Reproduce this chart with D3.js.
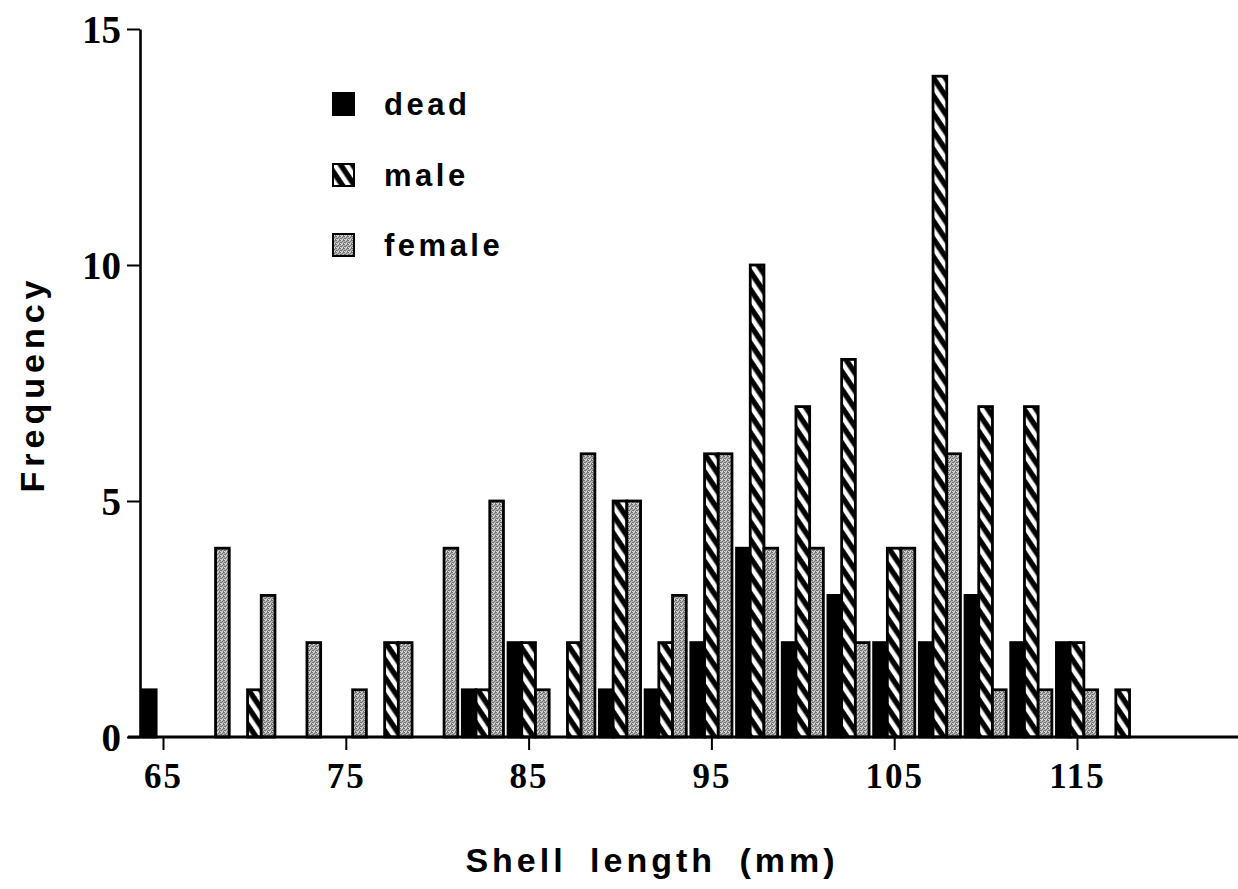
<!DOCTYPE html>
<html>
<head>
<meta charset="utf-8">
<script src="https://cdn.jsdelivr.net/npm/d3@7"></script>
<style>
  html, body { margin: 0; padding: 0; background: #fff; }
  svg { display: block; }
</style>
</head>
<body>
<svg id="chart" width="1238" height="889"></svg>
<script>
// ---- data ----
const bins = [65, 67.5, 70, 72.5, 75, 77.5, 80, 82.5, 85, 87.5, 90, 92.5, 95, 97.5, 100, 102.5, 105, 107.5, 110, 112.5, 115, 117.5];
const dead   = [1, 0, 0, 0, 0, 0, 0, 1, 2, 0, 1, 1, 2, 4, 2, 3, 2, 2, 3, 2, 2, 0];
const male   = [0, 0, 1, 0, 0, 2, 0, 1, 2, 2, 5, 2, 6, 10, 7, 8, 4, 14, 7, 7, 2, 1];
const female = [0, 4, 3, 2, 1, 2, 4, 5, 1, 6, 5, 3, 6, 4, 4, 2, 4, 6, 1, 1, 1, 0];
const seriesNames = ["dead", "male", "female"];
const xTicks = [65, 75, 85, 95, 105, 115];
const yTicks = [0, 5, 10, 15];
const xTitle = "Shell length (mm)";
const yTitle = "Frequency";

const svg = d3.select("#chart");
const W = 1238;

const x = d3.scaleLinear().domain([65, 115]).range([163, 1077]);
const y = d3.scaleLinear().domain([0, 15]).range([737, 29]);

// ---- patterns ----
const defs = svg.append("defs");
const hatch = defs.append("pattern")
  .attr("id", "hatch").attr("patternUnits", "userSpaceOnUse")
  .attr("width", 10).attr("height", 10)
  .attr("patternTransform", "rotate(56)");
hatch.append("rect").attr("width", 10).attr("height", 10).attr("fill", "#000");
hatch.append("rect").attr("y", 2.5).attr("width", 10).attr("height", 4.6).attr("fill", "#fff");

const stip = defs.append("pattern")
  .attr("id", "stipple").attr("patternUnits", "userSpaceOnUse")
  .attr("width", 4).attr("height", 4);
stip.append("rect").attr("width", 4).attr("height", 4).attr("fill", "#b4b4b4");
[[0,0],[2,1],[1,2],[3,3],[3,0],[0,2]].forEach(([px,py]) =>
  stip.append("rect").attr("x", px).attr("y", py).attr("width", 1).attr("height", 1).attr("fill", "#6e6e6e"));
[[1,0],[0,3],[2,3]].forEach(([px,py]) =>
  stip.append("rect").attr("x", px).attr("y", py).attr("width", 1).attr("height", 1).attr("fill", "#dedede"));

const fills = { dead: "#000", male: "url(#hatch)", female: "url(#stipple)" };
const values = { dead, male, female };

// ---- bars ----
const groupW = x(65 + 2.25) - x(65);
const barW = groupW / 3;
const barsG = svg.append("g");
seriesNames.forEach((s, si) => {
  const data = bins.map((b, i) => ({ b, v: values[s][i] })).filter(d => d.v > 0);
  barsG.selectAll(null).data(data).enter().append("rect")
    .attr("x", d => x(d.b) - groupW / 2 + si * barW)
    .attr("y", d => y(d.v))
    .attr("width", barW)
    .attr("height", d => y(0) - y(d.v))
    .attr("fill", fills[s])
    .attr("stroke", "#000")
    .attr("stroke-width", 2.8);
});

// ---- axes ----
const yAxis = d3.axisLeft(y).tickValues(yTicks).tickSize(13).tickSizeOuter(0).tickFormat(d3.format("d"));
const yg = svg.append("g").attr("transform", "translate(140,0)").call(yAxis);
yg.select(".domain").attr("stroke-width", 2.6);
yg.selectAll(".tick line").attr("stroke-width", 2);
yg.selectAll(".tick text")
  .attr("x", -19).attr("dy", "0.34em")
  .attr("font-family", "'Liberation Serif', 'Times New Roman', serif")
  .attr("font-weight", "bold").attr("font-size", 39).attr("fill", "#000");

const xAxis = d3.axisBottom(x).tickValues(xTicks).tickSize(13).tickSizeOuter(0).tickFormat(d3.format("d"));
const xg = svg.append("g").attr("transform", "translate(0,737)").call(xAxis);
xg.select(".domain").remove();
xg.selectAll(".tick line").attr("stroke-width", 2);
xg.selectAll(".tick text")
  .attr("y", 51).attr("dy", 0)
  .attr("font-family", "'Liberation Serif', 'Times New Roman', serif")
  .attr("font-weight", "bold").attr("font-size", 35).attr("letter-spacing", 2).attr("fill", "#000");

// baseline extends across whole width
svg.append("line")
  .attr("x1", 128).attr("x2", W)
  .attr("y1", y(0)).attr("y2", y(0))
  .attr("stroke", "#000").attr("stroke-width", 3);

// ---- titles ----
svg.append("text")
  .attr("transform", `translate(44,${384}) rotate(-90)`)
  .attr("text-anchor", "middle")
  .attr("font-family", "'Liberation Sans', Arial, sans-serif")
  .attr("font-weight", "bold").attr("font-size", 34).attr("letter-spacing", 5)
  .text(yTitle);

svg.append("text")
  .attr("x", 652).attr("y", 872)
  .attr("text-anchor", "middle")
  .attr("font-family", "'Liberation Sans', Arial, sans-serif")
  .attr("font-weight", "bold").attr("font-size", 34).attr("letter-spacing", 4).attr("word-spacing", 10)
  .text(xTitle);

// ---- legend ----
const legendTops = [93, 164, 234];
const lg = svg.append("g");
seriesNames.forEach((s, i) => {
  lg.append("rect")
    .attr("x", 333).attr("y", legendTops[i])
    .attr("width", 21).attr("height", 22)
    .attr("fill", fills[s]).attr("stroke", "#000").attr("stroke-width", 2);
  lg.append("text")
    .attr("x", 384).attr("y", legendTops[i] + 22)
    .attr("font-family", "'Liberation Sans', Arial, sans-serif")
    .attr("font-weight", "bold").attr("font-size", 31).attr("letter-spacing", 3.5)
    .text(s);
});
</script>
</body>
</html>
